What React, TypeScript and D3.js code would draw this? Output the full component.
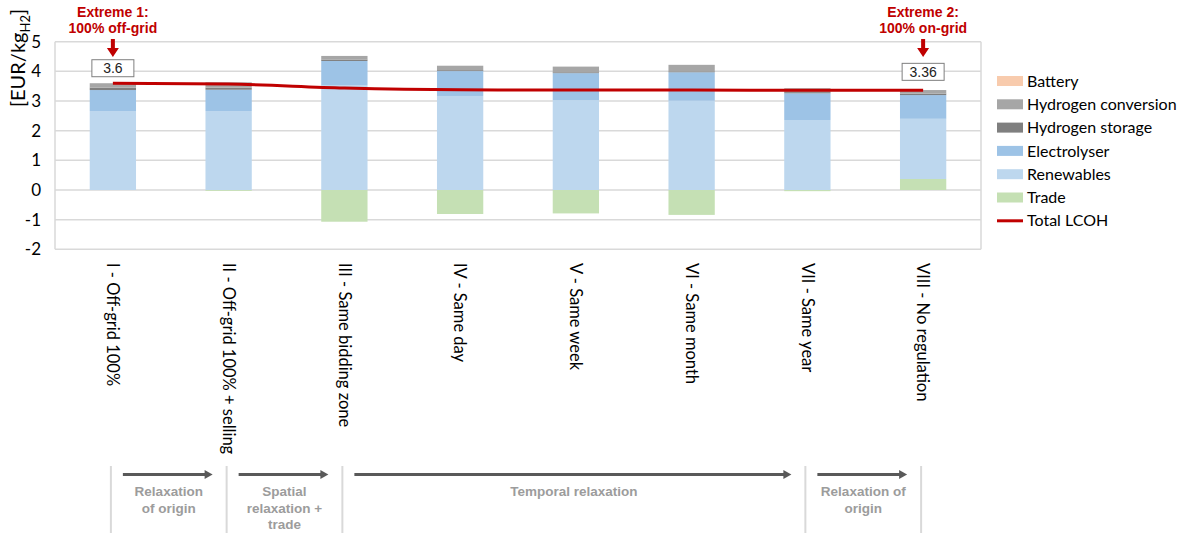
import React from "react";
import * as d3 from "d3";

const categories = [
  "I - Off-grid 100%",
  "II - Off-grid 100% + selling",
  "III - Same bidding zone",
  "IV - Same day",
  "V - Same week",
  "VI - Same month",
  "VII - Same year",
  "VIII - No regulation",
];
const trade = [0, -0.03, -1.07, -0.81, -0.79, -0.84, -0.04, 0.37];
const renewables = [2.66, 2.66, 3.54, 3.17, 3.03, 3.01, 2.36, 2.03];
const electrolyser = [0.71, 0.72, 0.81, 0.84, 0.91, 0.96, 0.9, 0.8];
const hydrogenStorage = [0.08, 0.07, 0.05, 0.03, 0.03, 0.03, 0.04, 0.05];
const hydrogenConversion = [0.15, 0.18, 0.12, 0.15, 0.19, 0.22, 0.13, 0.12];
const battery = [0, 0, 0, 0, 0, 0, 0, 0];
const totalLCOH = [3.6, 3.57, 3.44, 3.38, 3.37, 3.37, 3.36, 3.36];
const yTicks = [-2, -1, 0, 1, 2, 3, 4, 5];

const seriesKeys = ["Trade", "Renewables", "Electrolyser", "Hydrogen storage", "Hydrogen conversion", "Battery"];
const seriesValues: Record<string, number[]> = {
  Trade: trade,
  Renewables: renewables,
  Electrolyser: electrolyser,
  "Hydrogen storage": hydrogenStorage,
  "Hydrogen conversion": hydrogenConversion,
  Battery: battery,
};
const colors: Record<string, string> = {
  Battery: "#F8CBAD",
  "Hydrogen conversion": "#A6A6A6",
  "Hydrogen storage": "#7F7F7F",
  Electrolyser: "#9DC3E6",
  Renewables: "#BDD7EE",
  Trade: "#C5E0B4",
};
const legendOrder = ["Battery", "Hydrogen conversion", "Hydrogen storage", "Electrolyser", "Renewables", "Trade"];

const groupAnnotations = [
  { from: 0, to: 1, lines: ["Relaxation", "of origin"] },
  { from: 1, to: 2, lines: ["Spatial", "relaxation +", "trade"] },
  { from: 2, to: 6, lines: ["Temporal relaxation"] },
  { from: 6, to: 7, lines: ["Relaxation of", "origin"] },
];
const separatorIdx = [0, 1, 2, 6, 7];

const RED = "#C00000";
const FONT = "Lato, 'Open Sans', sans-serif";
const ARIAL = "'Liberation Sans', Arial, sans-serif";

export default function App() {
  const W = 1192, H = 533;
  const x0 = 55, x1 = 981;
  const x = d3.scaleBand<string>().domain(categories).range([x0, x1]).paddingInner(0.6).paddingOuter(0.3);
  const band = d3.scaleBand<string>().domain(categories).range([x0, x1]);
  const y = d3.scaleLinear().domain([-2, 5]).range([249.3, 41.7]);
  const cx = (i: number) => (band(categories[i]) as number) + band.bandwidth() / 2;

  const rows = categories.map((c, i) => {
    const r: any = { cat: c };
    seriesKeys.forEach((k) => (r[k] = seriesValues[k][i]));
    return r;
  });
  const stacked = d3.stack<any>().keys(seriesKeys).offset(d3.stackOffsetDiverging)(rows);

  const line = d3
    .line<number>()
    .x((_, i) => cx(i))
    .y((d) => y(d))
    .curve(d3.curveMonotoneX);

  const arrowDown = (xc: number, top: number) => (
    <g>
      <rect x={xc - 2} y={top} width={4} height={10} fill={RED} />
      <path d={`M${xc - 6},${top + 9} L${xc + 6},${top + 9} L${xc},${top + 18} Z`} fill={RED} />
    </g>
  );

  const labelBox = (xc: number, top: number, text: string) => (
    <g>
      <rect x={xc - 21} y={top} width={42} height={17} fill="#fff" stroke="#7f7f7f" strokeWidth={1} />
      <text x={xc} y={top + 13.5} textAnchor="middle" fontFamily={ARIAL} fontSize={14} fill="#222">
        {text}
      </text>
    </g>
  );

  return (
    <svg width={W} height={H} style={{ position: "absolute", left: 0, top: 0, background: "#fff" }}>
      {yTicks.map((t) => (
        <line key={t} x1={x0} x2={x1} y1={y(t)} y2={y(t)} stroke="#d9d9d9" strokeWidth={1.5} />
      ))}
      <line x1={x0} x2={x0} y1={y(5)} y2={y(-2)} stroke="#d9d9d9" strokeWidth={1.5} />
      <line x1={x1} x2={x1} y1={y(5)} y2={y(-2)} stroke="#d9d9d9" strokeWidth={1.5} />

      {yTicks.map((t) => (
        <text key={t} x={41} y={y(t)} dy="0.35em" textAnchor="end" fontFamily={FONT} fontSize={17} fill="#000">
          {t}
        </text>
      ))}

      <text transform="translate(25,58) rotate(-90)" textAnchor="middle" fontFamily={FONT} fontSize={20} fill="#000">
        [EUR/kg
        <tspan fontSize={13} dy={5}>H2</tspan>
        <tspan dy={-5}>]</tspan>
      </text>

      {stacked.map((s) => (
        <g key={s.key} fill={colors[s.key]}>
          {s.map((d, i) => {
            const a = y(d[0]), b = y(d[1]);
            const h = Math.abs(a - b);
            if (h < 0.01) return null;
            return <rect key={i} x={x(categories[i])} width={x.bandwidth()} y={Math.min(a, b)} height={h} />;
          })}
        </g>
      ))}

      <path d={line(totalLCOH) || ""} fill="none" stroke={RED} strokeWidth={3} />

      {categories.map((c, i) => (
        <text
          key={c}
          transform={`translate(${cx(i)},263) rotate(90)`}
          textAnchor="start"
          dy="0.35em"
          fontFamily={FONT}
          fontSize={16.5}
          fill="#000"
        >
          {c}
        </text>
      ))}

      {[
        { i: 0, l1: "Extreme 1:", l2: "100% off-grid", off: 23.5 },
        { i: 7, l1: "Extreme 2:", l2: "100% on-grid", off: 27 },
      ].map((e) => (
        <g key={e.i}>
          <text x={cx(e.i)} y={17} textAnchor="middle" fontFamily={ARIAL} fontWeight="bold" fontSize={14} fill={RED}>
            {e.l1}
          </text>
          <text x={cx(e.i)} y={33} textAnchor="middle" fontFamily={ARIAL} fontWeight="bold" fontSize={14} fill={RED}>
            {e.l2}
          </text>
          {arrowDown(cx(e.i), 39)}
          {labelBox(cx(e.i), y(totalLCOH[e.i]) - e.off, String(totalLCOH[e.i]))}
        </g>
      ))}

      {legendOrder.map((k, i) => (
        <g key={k} transform={`translate(997,${81 + i * 23.3})`}>
          <rect x={0} y={-5} width={26} height={10} fill={colors[k]} />
          <text x={30} y={0} dy="0.35em" fontFamily={FONT} fontSize={16} fill="#000">
            {k}
          </text>
        </g>
      ))}
      <g transform={`translate(997,${81 + 6 * 23.3})`}>
        <line x1={0} x2={26} y1={0} y2={0} stroke={RED} strokeWidth={3} />
        <text x={30} y={0} dy="0.35em" fontFamily={FONT} fontSize={16} fill="#000">
          Total LCOH
        </text>
      </g>

      {separatorIdx.map((i) => (
        <line key={i} x1={cx(i) - 2} x2={cx(i) - 2} y1={466} y2={533} stroke="#d9d9d9" strokeWidth={2} />
      ))}
      {groupAnnotations.map((g, gi) => {
        const a = cx(g.from) - 2 + 12;
        const b = cx(g.to) - 2 - 14;
        const mid = (cx(g.from) + cx(g.to)) / 2 - 2;
        return (
          <g key={gi}>
            <line x1={a} x2={b - 7} y1={474.5} y2={474.5} stroke="#595959" strokeWidth={3} />
            <path d={`M${b - 8},${470} L${b},${474.5} L${b - 8},${479} Z`} fill="#595959" />
            {g.lines.map((l, li) => (
              <text
                key={li}
                x={mid}
                y={496 + li * 16.5}
                textAnchor="middle"
                fontFamily={ARIAL}
                fontWeight="bold"
                fontSize={13.5}
                fill="#9c9c9c"
              >
                {l}
              </text>
            ))}
          </g>
        );
      })}
    </svg>
  );
}
